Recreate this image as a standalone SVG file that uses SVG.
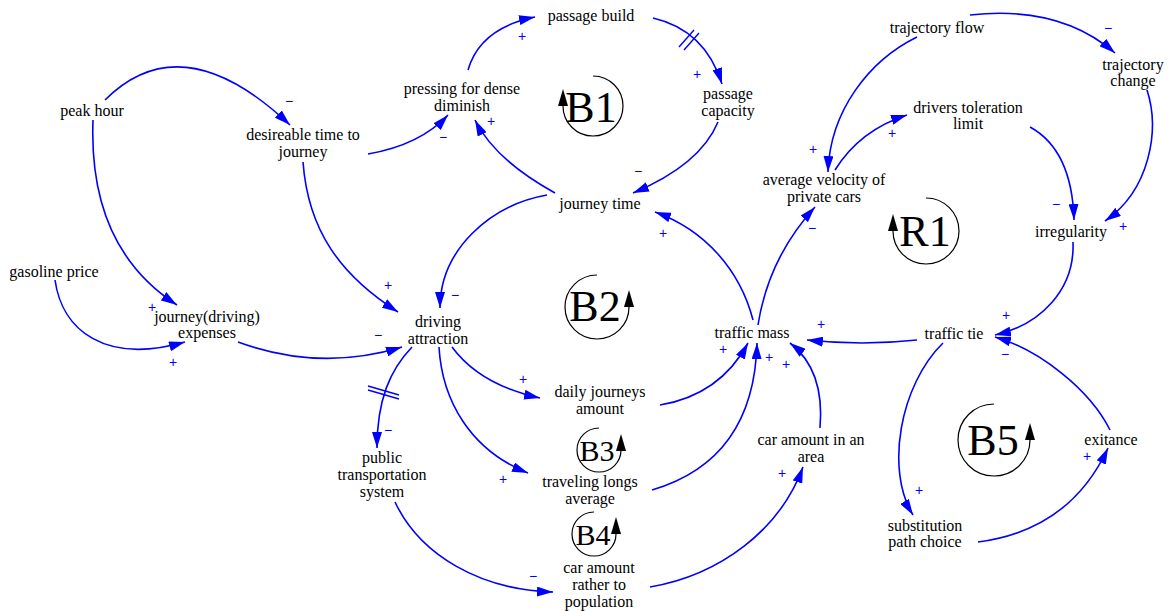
<svg xmlns="http://www.w3.org/2000/svg" width="1169" height="611" viewBox="0 0 1169 611">
<style>
.n{font-family:"Liberation Serif","Times New Roman",serif;font-size:16px;fill:#000;text-anchor:middle}
.c{fill:none;stroke:#0000ff;stroke-width:1.6;marker-end:url(#ah)}
.d{fill:none;stroke:#0000ff;stroke-width:1.4}
.p{font-family:"Liberation Sans",Arial,sans-serif;font-size:14px;fill:#0000ff;text-anchor:middle;dominant-baseline:central}
.lp{fill:none;stroke:#000;stroke-width:1.2}
.la{fill:#000}
.lt{font-family:"Liberation Serif","Times New Roman",serif;fill:#000;text-anchor:middle}
</style>
<defs>
<marker id="ah" viewBox="0 0 16 10" refX="16" refY="5" markerWidth="16" markerHeight="10" markerUnits="userSpaceOnUse" orient="auto">
<path d="M0,0 L16,5 L0,10 z" fill="#0000ff"/>
</marker>
</defs>
<rect width="1169" height="611" fill="#fff"/>

<g id="connectors">
<path class="c" d="M105,100 Q182,23 290,125"/>
<path class="c" d="M93,120 C90,200 115,265 177,305"/>
<path class="c" d="M55,280 C62,330 105,365 185,342"/>
<path class="c" d="M238,342 Q320,372 402,347"/>
<path class="c" d="M303,162 C308,230 340,275 398,312"/>
<path class="c" d="M368,154 Q420,145 448,115"/>
<path class="c" d="M468,70 Q480,28 535,17"/>
<path class="c" d="M653,18 Q705,30 722,84"/>
<path class="d" d="M679,47 L694,30 M684,50 L699,33"/>
<path class="c" d="M718,122 Q700,165 633,193"/>
<path class="c" d="M555,193 Q495,160 475,120"/>
<path class="c" d="M547,195 C490,205 440,250 440,308"/>
<path class="c" d="M753,320 C740,270 705,230 655,212"/>
<path class="c" d="M452,347 Q480,385 540,398"/>
<path class="c" d="M439,347 C442,400 470,450 528,473"/>
<path class="c" d="M412,347 C390,370 377,400 377,448"/>
<path class="d" d="M368,386 L399,395 M368,390 L399,399"/>
<path class="c" d="M395,502 C420,555 480,590 553,592"/>
<path class="c" d="M660,405 Q720,395 748,343"/>
<path class="c" d="M652,490 C720,470 755,420 757,343"/>
<path class="c" d="M650,587 C720,575 780,530 803,467"/>
<path class="c" d="M820,428 Q825,370 790,343"/>
<path class="c" d="M917,340 Q862,346 807,340"/>
<path class="c" d="M758,325 C765,280 785,240 815,207"/>
<path class="c" d="M835,170 Q860,130 907,115"/>
<path class="c" d="M917,37 C870,60 830,110 828,172"/>
<path class="c" d="M970,15 Q1060,5 1115,53"/>
<path class="c" d="M1030,127 Q1072,150 1074,220"/>
<path class="c" d="M1147,90 C1160,130 1150,190 1105,221"/>
<path class="c" d="M1073,242 C1075,290 1040,325 995,335"/>
<path class="c" d="M1110,430 C1090,390 1040,350 995,337"/>
<path class="c" d="M943,343 C900,385 885,470 913,515"/>
<path class="c" d="M978,542 Q1070,530 1108,448"/>
</g>

<g id="polarities">
<text class="p" x="289" y="101">−</text>
<text class="p" x="152" y="307">+</text>
<text class="p" x="173" y="362">+</text>
<text class="p" x="378" y="335">−</text>
<text class="p" x="388" y="285">+</text>
<text class="p" x="443" y="137">−</text>
<text class="p" x="522" y="36">+</text>
<text class="p" x="697" y="74">+</text>
<text class="p" x="638" y="171">−</text>
<text class="p" x="491" y="121">+</text>
<text class="p" x="455" y="295">−</text>
<text class="p" x="663" y="233">+</text>
<text class="p" x="523" y="379">+</text>
<text class="p" x="503" y="479">+</text>
<text class="p" x="388" y="430">−</text>
<text class="p" x="533" y="576">−</text>
<text class="p" x="723" y="349">+</text>
<text class="p" x="769" y="357">+</text>
<text class="p" x="786" y="364">+</text>
<text class="p" x="782" y="473">+</text>
<text class="p" x="821" y="324">+</text>
<text class="p" x="812" y="228">−</text>
<text class="p" x="892" y="133">+</text>
<text class="p" x="813" y="149">+</text>
<text class="p" x="1108" y="28">−</text>
<text class="p" x="1056" y="204">−</text>
<text class="p" x="1123" y="226">+</text>
<text class="p" x="1006" y="315">+</text>
<text class="p" x="1005" y="354">−</text>
<text class="p" x="919" y="490">+</text>
<text class="p" x="1087" y="456">+</text>
</g>

<g id="loop-B1">
<path class="lp" d="M593,76 A30,30 0 1 1 563,106"/>
<polygon class="la" points="558,106 568,106 563,89"/>
<text class="lt" x="591" y="122" font-size="44">B1</text>
</g>
<g id="loop-B2">
<path class="lp" d="M597,275 A32,32 0 1 0 629,307"/>
<polygon class="la" points="624,307 634,307 629,290"/>
<text class="lt" x="595" y="321" font-size="44">B2</text>
</g>
<g id="loop-R1">
<path class="lp" d="M926,198 A33,33 0 1 1 893,231"/>
<polygon class="la" points="888,231 898,231 893,214"/>
<text class="lt" x="925" y="246" font-size="44">R1</text>
</g>
<g id="loop-B3">
<path class="lp" d="M599,428 A22,22 0 1 0 621,450"/>
<polygon class="la" points="616,451 626,451 621,434"/>
<text class="lt" x="597" y="461" font-size="30">B3</text>
</g>
<g id="loop-B4">
<path class="lp" d="M594,512 A22,22 0 1 0 616,534"/>
<polygon class="la" points="611,534 621,534 616,517"/>
<text class="lt" x="593" y="545" font-size="30">B4</text>
</g>
<g id="loop-B5">
<path class="lp" d="M994,404 A36,36 0 1 0 1030,440"/>
<polygon class="la" points="1025,440 1035,440 1030,423"/>
<text class="lt" x="993" y="455" font-size="44">B5</text>
</g>

<g id="n-peak-hour"><text class="n" x="92" y="116">peak hour</text></g>
<g id="n-desireable-time"><text class="n" x="303" y="140">desireable time to<tspan x="303" dy="17">journey</tspan></text></g>
<g id="n-pressing"><text class="n" x="462" y="94">pressing for dense<tspan x="462" dy="17">diminish</tspan></text></g>
<g id="n-passage-build"><text class="n" x="591" y="21">passage build</text></g>
<g id="n-passage-capacity"><text class="n" x="728" y="99">passage<tspan x="728" dy="17">capacity</tspan></text></g>
<g id="n-journey-time"><text class="n" x="600" y="209">journey time</text></g>
<g id="n-driving-attraction"><text class="n" x="438" y="327">driving<tspan x="438" dy="17">attraction</tspan></text></g>
<g id="n-traffic-mass"><text class="n" x="752" y="338">traffic mass</text></g>
<g id="n-daily-journeys"><text class="n" x="600" y="397">daily journeys<tspan x="600" dy="17">amount</tspan></text></g>
<g id="n-traveling-longs"><text class="n" x="590" y="487">traveling longs<tspan x="590" dy="17">average</tspan></text></g>
<g id="n-car-amount-rather"><text class="n" x="599" y="573">car amount<tspan x="599" dy="17">rather to</tspan><tspan x="599" dy="17">population</tspan></text></g>
<g id="n-public-transportation"><text class="n" x="382" y="463">public<tspan x="382" dy="17">transportation</tspan><tspan x="382" dy="17">system</tspan></text></g>
<g id="n-car-amount-area"><text class="n" x="811" y="445">car amount in an<tspan x="811" dy="17">area</tspan></text></g>
<g id="n-substitution"><text class="n" x="925" y="531">substitution<tspan x="925" dy="16">path choice</tspan></text></g>
<g id="n-exitance"><text class="n" x="1111" y="445">exitance</text></g>
<g id="n-traffic-tie"><text class="n" x="954" y="339">traffic tie</text></g>
<g id="n-irregularity"><text class="n" x="1071" y="237">irregularity</text></g>
<g id="n-average-velocity"><text class="n" x="824" y="185">average velocity of<tspan x="824" dy="17">private cars</tspan></text></g>
<g id="n-drivers-toleration"><text class="n" x="968" y="113">drivers toleration<tspan x="968" dy="16">limit</tspan></text></g>
<g id="n-trajectory-flow"><text class="n" x="937" y="33">trajectory flow</text></g>
<g id="n-trajectory-change"><text class="n" x="1133" y="70">trajectory<tspan x="1133" dy="16">change</tspan></text></g>
<g id="n-gasoline-price"><text class="n" x="54" y="277">gasoline price</text></g>
<g id="n-journey-expenses"><text class="n" x="207" y="322">journey(driving)<tspan x="207" dy="16">expenses</tspan></text></g>
</svg>
